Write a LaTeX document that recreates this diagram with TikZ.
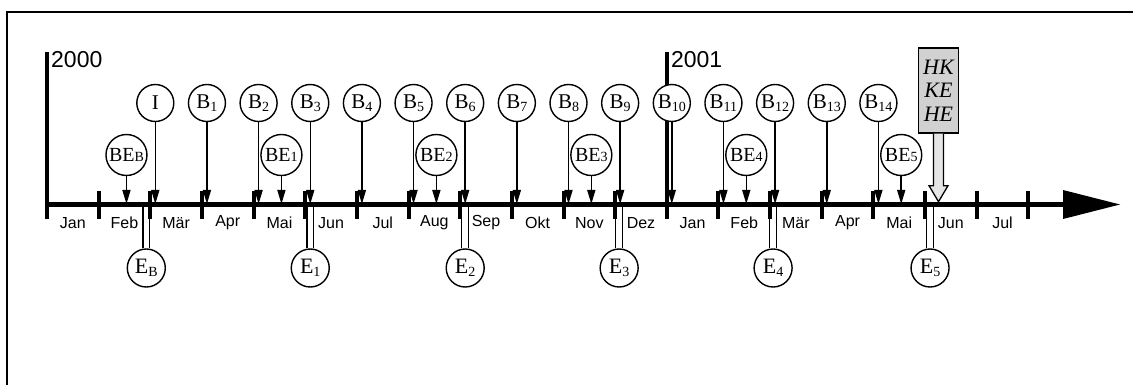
\documentclass[tikz,border=0pt]{standalone}
\usepackage{fontspec}
\setmainfont{Liberation Serif}
\setsansfont{Liberation Sans}
\usetikzlibrary{arrows.meta}
\pgfdeclarelayer{conn}
\pgfdeclarelayer{axisl}
\pgfsetlayers{conn,axisl,main}
\newcommand\lowsub[1]{\raisebox{-3.5pt}{\fontsize{14}{14}\selectfont #1}}
\newcommand\besub[1]{\raisebox{-0.5pt}{\fontsize{14}{14}\selectfont #1}}
\begin{document}
\begin{tikzpicture}[x=1pt,y=-1pt,
  topc/.style={circle,draw,line width=1.4pt,fill=white,inner sep=0pt,minimum size=37pt,font=\fontsize{21}{21}\selectfont},
  bec/.style={circle,draw,line width=1.4pt,fill=white,inner sep=0pt,minimum size=41pt,font=\fontsize{20}{20}\selectfont},
  ec/.style={circle,draw,line width=1.4pt,fill=white,inner sep=0pt,minimum size=38pt,font=\fontsize{22}{22}\selectfont},
  arr/.style={line width=1.5pt,-{Triangle[length=14pt,width=8pt]}},
  dbl/.style={double,double distance=5.5pt,line width=1.3pt},
  tickmark/.style={line width=4pt},
  month/.style={font=\sffamily\fontsize{16}{16}\selectfont,inner sep=0pt},
  year/.style={font=\sffamily\fontsize{23}{23}\selectfont,inner sep=0pt,anchor=north west},
  hkbox/.style={draw,line width=1.4pt,fill=black!18,minimum width=40pt,minimum height=85pt,inner sep=0pt,align=center,font=\itshape\fontsize{22}{23.5}\selectfont},
  hollow/.style={draw,line width=1.3pt,fill=black!10,line join=miter}]
\useasboundingbox (0,0) rectangle (1133,385);
% frame (top and left edges)
\draw[line width=2.2pt] (7,385) -- (7,12) -- (1133,12);
\coordinate (ax) at (0,204);
\foreach \k in {0,...,19} \coordinate (t\k) at ({47+51.65*\k},204.5);
\coordinate (axend) at (1120,204.5);
% E circles with double lines
\foreach \i/\k/\o/\s in {0/2/-4/B,1/5/5/1,2/8/5/2,3/11/4/3,4/14/3/4,5/17/5/5} {
  \node[ec] (e\i) at ({47+51.65*\k+\o},268) {E\lowsub{\s}};
  \begin{pgfonlayer}{conn}
    \draw[dbl] (e\i.north) -- (e\i.north |- ax);
  \end{pgfonlayer}
}
% top circles with arrows
\foreach \i in {0,...,14} {
  \node[topc] (b\i) at ({47+51.65*(\i+2)+5},103) {\ifnum\i=0 I\else B\lowsub{\i}\fi};
  \begin{pgfonlayer}{conn}
    \draw[arr] (b\i.south) -- (b\i.south |- ax);
  \end{pgfonlayer}
}
% BE circles with arrows
\foreach \i/\k/\s in {0/1/B,1/4/1,2/7/2,3/10/3,4/13/4,5/16/5} {
  \node[bec] (be\i) at ({47+51.65*(\k+0.5)+2},155) {BE\besub{\s}};
  \begin{pgfonlayer}{conn}
    \draw[arr] (be\i.south) -- (be\i.south |- ax);
  \end{pgfonlayer}
}
% axis
\begin{pgfonlayer}{axisl}
\draw[line width=5.5pt] (t0) -- (1064,204.5);
\fill (1063,190) -- (axend) -- (1063,219) -- cycle;
\foreach \k in {1,...,11,13,14,...,19} \draw[tickmark] (t\k) ++(0,-13.5) -- ++(0,28);
\draw[line width=4pt] (t0) ++(0,14.5) -- ++(0,-167) coordinate (y0top);
\draw[line width=4pt] (t12) ++(0,14.5) -- ++(0,-167) coordinate (y1top);
\end{pgfonlayer}
\node[year] (y2000) at ([xshift=4pt,yshift=1pt]y0top) {2000};
\node[year] (y2001) at ([xshift=4pt,yshift=1pt]y1top) {2001};
% month labels
\foreach \k/\m in {0/Jan,1/Feb,2/Mär,3/Apr,4/Mai,5/Jun,6/Jul,7/Aug,8/Sep,9/Okt,10/Nov,11/Dez,12/Jan,13/Feb,14/Mär,15/Apr,16/Mai,17/Jun,18/Jul}
  \node[month] (m\k) at ({47+51.65*(\k+0.5)},223) {\m};
% HK box and hollow arrow
\node[hkbox] (hk) at (938.5,90.5) {HK\\KE\\HE};
\draw[hollow] (hk.south) ++(-5,0) -- ++(0,52) -- ++(-4.5,0) -- ++(9.5,16) -- ++(9.5,-16) -- ++(-4.5,0) -- ++(0,-52);
\end{tikzpicture}
\end{document}
